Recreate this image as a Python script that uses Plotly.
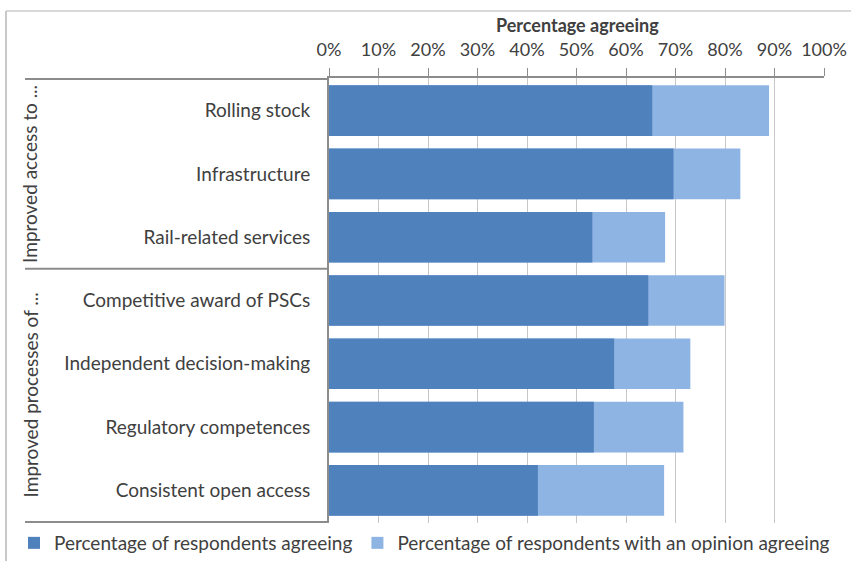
import plotly.graph_objects as go

categories = ["Rolling stock", "Infrastructure", "Rail-related services",
              "Competitive award of PSCs", "Independent decision-making",
              "Regulatory competences", "Consistent open access"]
agreeing = [65.3, 69.6, 53.2, 64.5, 57.6, 53.5, 42.2]
opinion_agreeing = [88.9, 83.1, 67.9, 79.9, 73.0, 71.6, 67.7]
tick_values = [0, 10, 20, 30, 40, 50, 60, 70, 80, 90, 100]
group_labels = ["Improved access to ...", "Improved processes of ..."]

W, H = 851, 561
L, R, T, B = 329, 27, 78, 38
PW, PH = W - L - R, H - T - B

def px(x):
    return (x - L) / PW

def py(y):
    return (H - B - y) / PH

DARK = "#4F81BD"
LIGHT = "#8EB4E3"
TXT = "#404040"
FONT = "Lato"
FS = 19

fig = go.Figure()
fig.add_trace(go.Bar(y=categories, x=opinion_agreeing, orientation="h",
                     marker=dict(color=LIGHT, line=dict(width=0)), width=0.8,
                     name="Percentage of respondents with an opinion agreeing"))
fig.add_trace(go.Bar(y=categories, x=agreeing, orientation="h",
                     marker=dict(color=DARK, line=dict(width=0)), width=0.8,
                     name="Percentage of respondents agreeing"))

fig.update_layout(
    width=W, height=H, barmode="overlay",
    margin=dict(l=L, r=R, t=T, b=B, autoexpand=False),
    paper_bgcolor="white", plot_bgcolor="white",
    font=dict(family=FONT, size=FS, color=TXT),
    legend=dict(orientation="h", x=px(14), y=py(543), xanchor="left", yanchor="middle",
                traceorder="reversed", font=dict(size=FS, color=TXT),
                itemwidth=30, tracegroupgap=0, bgcolor="rgba(0,0,0,0)"),
    xaxis=dict(side="top", range=[0, 100], tickvals=tick_values,
               ticktext=[f"{v}%" for v in tick_values],
               showgrid=True, gridcolor="#C8C8C8", gridwidth=1,
               showline=True, linecolor="#8C8C8C", linewidth=2,
               ticks="outside", ticklen=8, tickcolor="#8C8C8C", tickwidth=1,
               ticklabelstandoff=5,
               tickfont=dict(size=18, color=TXT), zeroline=False, fixedrange=True),
    yaxis=dict(categoryorder="array", categoryarray=categories, autorange="reversed",
               showline=True, linecolor="#8C8C8C", linewidth=2, ticks="",
               ticklabelstandoff=13, tickfont=dict(size=FS, color=TXT),
               showgrid=False, zeroline=False, fixedrange=True),
)

# group separator lines in label column
for yv in [-0.5, 2.5, 6.5]:
    fig.add_shape(type="line", xref="paper", yref="y", x0=px(25), x1=0, y0=yv, y1=yv,
                  line=dict(color="#8C8C8C", width=2))

# group labels (rotated)
fig.add_annotation(text=group_labels[0], xref="paper", yref="y", x=px(30), y=1,
                   xanchor="center", yanchor="middle",
                   textangle=-90, showarrow=False, font=dict(size=FS, color=TXT))
fig.add_annotation(text=group_labels[1], xref="paper", yref="y", x=px(30), y=4.5,
                   xanchor="center", yanchor="middle",
                   textangle=-90, showarrow=False, font=dict(size=FS, color=TXT))

# axis title
fig.add_annotation(text="<b>Percentage agreeing</b>", xref="paper", yref="paper",
                   x=px(577), y=py(25), xanchor="center", yanchor="middle",
                   showarrow=False, font=dict(size=18, color=TXT))

# outer frame (screenshot border)
fig.add_shape(type="line", xref="paper", yref="paper", x0=px(6), x1=px(W), y0=py(11), y1=py(11),
              line=dict(color="#D9D9D9", width=2))
fig.add_shape(type="line", xref="paper", yref="paper", x0=px(6), x1=px(6), y0=py(11), y1=py(H),
              line=dict(color="#C8C8C8", width=2))

fig.write_html("out.html", config={"displayModeBar": False},
               post_script="document.body.style.margin='0px';")
